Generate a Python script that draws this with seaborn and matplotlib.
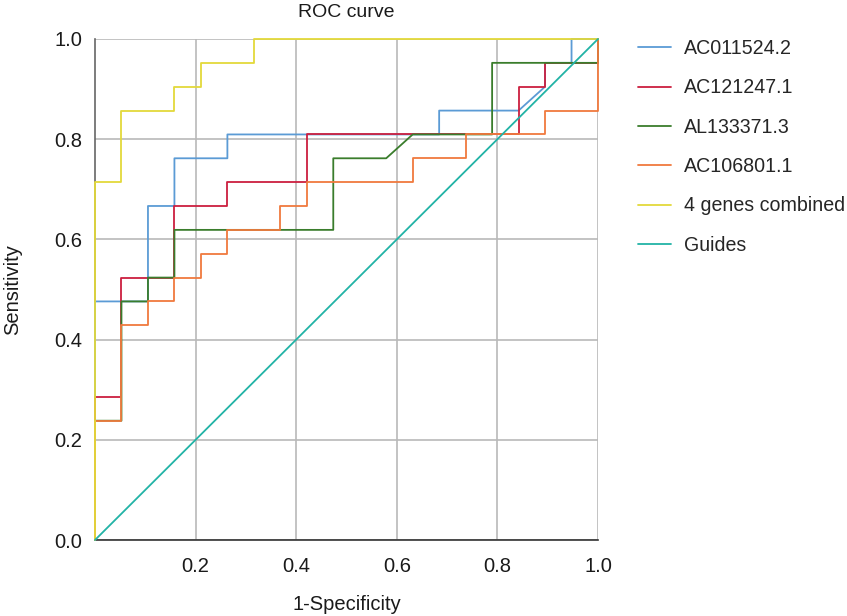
import pandas as pd
import seaborn as sns
import matplotlib.pyplot as plt

# ROC curve vertices (1-specificity, sensitivity)
blue_fpr = [0, 0, 0.1053, 0.1053, 0.1579, 0.1579, 0.2632, 0.2632, 0.6842, 0.6842, 0.8421, 0.8947, 0.8947, 0.9474, 0.9474, 1]
blue_tpr = [0, 0.4762, 0.4762, 0.6667, 0.6667, 0.7619, 0.7619, 0.8095, 0.8095, 0.8571, 0.8571, 0.9048, 0.9524, 0.9524, 1, 1]

red_fpr = [0, 0, 0.0526, 0.0526, 0.1579, 0.1579, 0.2632, 0.2632, 0.4211, 0.4211, 0.8421, 0.8421, 0.8947, 0.8947, 1, 1]
red_tpr = [0, 0.2857, 0.2857, 0.5238, 0.5238, 0.6667, 0.6667, 0.7143, 0.7143, 0.8095, 0.8095, 0.9048, 0.9048, 0.9524, 0.9524, 1]

green_fpr = [0, 0, 0.0526, 0.0526, 0.1053, 0.1053, 0.1579, 0.1579, 0.4737, 0.4737, 0.5789, 0.6316, 0.7895, 0.7895, 1, 1]
green_tpr = [0, 0.2381, 0.2381, 0.4762, 0.4762, 0.5238, 0.5238, 0.6190, 0.6190, 0.7619, 0.7619, 0.8095, 0.8095, 0.9524, 0.9524, 1]

orange_fpr = [0, 0, 0.0526, 0.0526, 0.1053, 0.1053, 0.1579, 0.1579, 0.2105, 0.2105, 0.2632, 0.2632,
              0.3684, 0.3684, 0.4211, 0.4211, 0.6316, 0.6316, 0.7368, 0.7368, 0.8947, 0.8947, 1, 1]
orange_tpr = [0, 0.2381, 0.2381, 0.4286, 0.4286, 0.4762, 0.4762, 0.5238, 0.5238, 0.5714, 0.5714, 0.6190,
              0.6190, 0.6667, 0.6667, 0.7143, 0.7143, 0.7619, 0.7619, 0.8095, 0.8095, 0.8571, 0.8571, 1]

combined_fpr = [0, 0, 0.0526, 0.0526, 0.1579, 0.1579, 0.2105, 0.2105, 0.3158, 0.3158, 1]
combined_tpr = [0, 0.7143, 0.7143, 0.8571, 0.8571, 0.9048, 0.9048, 0.9524, 0.9524, 1, 1]

guide_fpr = [0, 1]
guide_tpr = [0, 1]

labels = ['AC011524.2', 'AC121247.1', 'AL133371.3', 'AC106801.1', '4 genes combined', 'Guides']
colors = ['#5b9bd5', '#cc1f3f', '#3a7d2c', '#f07a3e', '#e3d93a', '#22b3a6']

x_ticks = [0.2, 0.4, 0.6, 0.8, 1.0]
y_ticks = [0.0, 0.2, 0.4, 0.6, 0.8, 1.0]

curves = [(blue_fpr, blue_tpr), (red_fpr, red_tpr), (green_fpr, green_tpr),
          (orange_fpr, orange_tpr), (combined_fpr, combined_tpr), (guide_fpr, guide_tpr)]
frames = []
for name, (fx, ty) in zip(labels, curves):
    frames.append(pd.DataFrame({'fpr': fx, 'tpr': ty, 'curve': name}))
df = pd.concat(frames, ignore_index=True)

sns.set_style('white')
plt.rcParams['font.family'] = ['Liberation Sans', 'DejaVu Sans']
fs = 14.5

fig = plt.figure(figsize=(8.47, 6.16), dpi=100)
ax = fig.add_axes([95 / 847, 1 - 540 / 616, 503 / 847, 501 / 616])

sns.lineplot(data=df, x='fpr', y='tpr', hue='curve', hue_order=labels,
             palette=dict(zip(labels, colors)), sort=False, estimator=None,
             linewidth=1.3, ax=ax)
for ln in ax.lines:
    ln.set_clip_on(False)
    ln.set_zorder(3)

ax.set_xlim(0, 1)
ax.set_ylim(0, 1)
ax.set_xticks(x_ticks)
ax.set_yticks(y_ticks)
ax.set_xticklabels([f'{v:.1f}' for v in x_ticks])
ax.set_yticklabels([f'{v:.1f}' for v in y_ticks])
ax.tick_params(axis='both', length=0, labelsize=fs, colors='#1a1a1a')
ax.tick_params(axis='x', pad=12)
ax.tick_params(axis='y', pad=9)
ax.grid(True, color='#b9b9b9', linewidth=1.2)
ax.set_axisbelow(True)
for side in ['top', 'right']:
    ax.spines[side].set_visible(False)
ax.spines['left'].set_color('#666666')
ax.spines['bottom'].set_color('#333333')
ax.spines['left'].set_linewidth(1.2)
ax.spines['bottom'].set_linewidth(1.2)

ax.set_title('ROC curve', fontsize=14, pad=16, color='#1a1a1a')
ax.set_xlabel('1-Specificity', fontsize=fs, labelpad=14, color='#1a1a1a')
ax.set_ylabel('Sensitivity', fontsize=fs, labelpad=23, color='#1a1a1a')

handles, labs = ax.get_legend_handles_labels()
ax.legend(handles, labs, loc='upper left', bbox_to_anchor=(638 / 847, 1 - 39 / 616),
          bbox_transform=fig.transFigure, frameon=False, fontsize=14.1,
          handlelength=1.7, handletextpad=0.65, labelspacing=1.04,
          borderpad=0, borderaxespad=0)

fig.savefig('out.png', dpi=100)
